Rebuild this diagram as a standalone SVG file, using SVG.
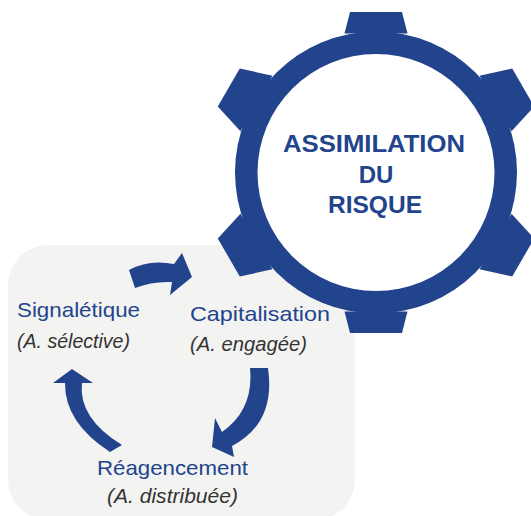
<svg xmlns="http://www.w3.org/2000/svg" width="531" height="516" viewBox="0 0 531 516">
  <style>
    .blue { fill: #22448c; }
    .gt { font-family: "Liberation Sans", Arial, sans-serif; font-weight: bold; font-size: 24px; fill: #22448c; text-anchor: middle; }
    .ttl { font-family: "Liberation Sans", Arial, sans-serif; font-size: 21px; fill: #22448c; }
    .sub { font-family: "Liberation Sans", Arial, sans-serif; font-style: italic; font-size: 20px; fill: #333333; }
  </style>
  <defs>
    <polygon id="toothV" points="-31.5,-139 -26,-160.5 26,-160.5 31.5,-139"/>
    <polygon id="toothS" points="-32,-138 -22,-170 22,-170 32,-138"/>
  </defs>
  <rect width="531" height="516" fill="#ffffff"/>

  <g id="panel">
    <rect x="8" y="245" width="347" height="275" rx="40" ry="40" fill="#f3f3f2"/>
  </g>

  <g id="gear" transform="translate(376,172.5)">
    <g class="blue">
      <circle r="141"/>
      <use href="#toothV"/>
      <use href="#toothV" transform="rotate(180)"/>
      <use href="#toothS" transform="rotate(60)"/>
      <use href="#toothS" transform="rotate(120)"/>
      <use href="#toothS" transform="rotate(240)"/>
      <use href="#toothS" transform="rotate(300)"/>
    </g>
    <circle r="118.5" fill="#ffffff"/>
    <text class="gt" x="-2" y="-20.5" textLength="182" lengthAdjust="spacingAndGlyphs">ASSIMILATION</text>
    <text class="gt" x="0" y="10.5">DU</text>
    <text class="gt" x="-1" y="40.5" textLength="94" lengthAdjust="spacingAndGlyphs">RISQUE</text>
  </g>

  <g id="connectors" class="blue">
    <path d="M129,270 Q148.5,259 174,264 L182,253 L192,277 L170,295 L172,282 Q152.5,281 135,288 Z"/>
    <path d="M250,368 L268,368 Q276,423 232,446 L234,457 L212,447 L215,418 L222,432 Q254,410 250,368 Z"/>
    <path d="M72,369 L93,383 L82,383 Q78,418 122,445 L110,452 Q64.5,422.5 65,383 L53,383 Z"/>
  </g>

  <g id="signaletique">
    <text class="ttl" x="17" y="317" textLength="123" lengthAdjust="spacingAndGlyphs">Signalétique</text>
    <text class="sub" x="17" y="348" textLength="113" lengthAdjust="spacingAndGlyphs">(A. sélective)</text>
  </g>
  <g id="capitalisation">
    <text class="ttl" x="190" y="321" textLength="140" lengthAdjust="spacingAndGlyphs">Capitalisation</text>
    <text class="sub" x="190" y="351" textLength="117" lengthAdjust="spacingAndGlyphs">(A. engagée)</text>
  </g>
  <g id="reagencement">
    <text class="ttl" x="97" y="475" textLength="151" lengthAdjust="spacingAndGlyphs">Réagencement</text>
    <text class="sub" x="107" y="503" textLength="131" lengthAdjust="spacingAndGlyphs">(A. distribuée)</text>
  </g>
</svg>
